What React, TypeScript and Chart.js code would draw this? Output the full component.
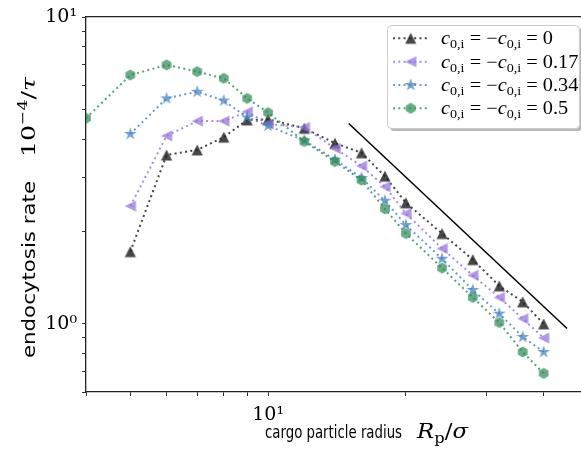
import React, { useEffect, useRef } from 'react';
import { Chart, registerables } from 'chart.js';
Chart.register(...registerables);

// ---- data ----
const radiiGreen = [4, 5, 6, 7, 8, 9, 10, 12, 14, 16, 18, 20, 24, 28, 32, 36, 40];
const radii = [5, 6, 7, 8, 9, 10, 12, 14, 16, 18, 20, 24, 28, 32, 36, 40];
const rate0 = [1.72, 3.55, 3.69, 4.06, 4.62, 4.64, 4.34, 3.88, 3.61, 3.03, 2.48, 1.97, 1.62, 1.33, 1.18, 1.0];
const rate017 = [2.42, 4.10, 4.58, 4.58, 4.91, 4.48, 4.37, 3.73, 3.27, 2.80, 2.29, 1.76, 1.44, 1.22, 1.04, 0.90];
const rate034 = [4.16, 5.43, 5.71, 5.34, 4.71, 4.42, 3.96, 3.43, 2.99, 2.52, 2.10, 1.63, 1.29, 1.08, 0.907, 0.81];
const rate05 = [4.68, 6.47, 6.98, 6.64, 6.31, 5.43, 4.88, 3.93, 3.38, 2.94, 2.37, 1.97, 1.52, 1.22, 1.01, 0.81, 0.69];
const guideX = [15, 45];
const guideY = [4.5, 0.966];
const seriesValues = ['0', '0.17', '0.34', '0.5'];
const xTickValues = [4, 5, 6, 7, 8, 9, 10, 20, 30, 40, 50];
const yTickValues = [0.6, 0.7, 0.8, 0.9, 1, 2, 3, 4, 5, 6, 7, 8, 9, 10];
const xTickLabels: Record<number, string> = { 10: '10¹' };
const yTickLabels: Record<number, string> = { 1: '10⁰', 10: '10¹' };

const SERIF = '"Liberation Serif", "DejaVu Serif", serif';
const DSERIF = '"DejaVu Serif", serif';
const SANS = '"DejaVu Sans", sans-serif';

function makeMarker(kind: string, fill: string): HTMLCanvasElement {
  const s = 16;
  const c = document.createElement('canvas');
  c.width = s;
  c.height = s;
  const ctx = c.getContext('2d')!;
  const m = s / 2;
  ctx.beginPath();
  if (kind === 'up') {
    const r = 5.6;
    ctx.moveTo(m, m - r);
    ctx.lineTo(m - r, m + r);
    ctx.lineTo(m + r, m + r);
  } else if (kind === 'left') {
    const r = 5.6;
    ctx.moveTo(m - r, m);
    ctx.lineTo(m + r, m - r);
    ctx.lineTo(m + r, m + r);
  } else if (kind === 'star') {
    const ro = 6.8;
    const ri = ro * 0.382;
    for (let k = 0; k < 10; k++) {
      const a = -Math.PI / 2 + (k * Math.PI) / 5;
      const r = k % 2 === 0 ? ro : ri;
      const px = m + r * Math.cos(a);
      const py = m + r * Math.sin(a);
      if (k === 0) ctx.moveTo(px, py);
      else ctx.lineTo(px, py);
    }
  } else {
    const r = 5.6;
    for (let k = 0; k < 6; k++) {
      const a = -Math.PI / 2 + (k * Math.PI) / 3;
      const px = m + r * Math.cos(a);
      const py = m + r * Math.sin(a);
      if (k === 0) ctx.moveTo(px, py);
      else ctx.lineTo(px, py);
    }
  }
  ctx.closePath();
  ctx.fillStyle = fill;
  ctx.fill();
  return c;
}

type Seg = { t: string; font: string; dy?: number };
function measureRich(ctx: CanvasRenderingContext2D, segs: Seg[]) {
  let total = 0;
  segs.forEach((s) => {
    ctx.font = s.font;
    total += ctx.measureText(s.t).width;
  });
  return total;
}
function drawRich(ctx: CanvasRenderingContext2D, segs: Seg[], x: number, y: number, targetWidth?: number, fixedScale?: number) {
  const total = measureRich(ctx, segs);
  const sx = fixedScale ? fixedScale : targetWidth ? targetWidth / total : 1;
  ctx.save();
  ctx.translate(x, y);
  ctx.scale(sx, 1);
  ctx.textAlign = 'left';
  ctx.textBaseline = 'alphabetic';
  let cx = 0;
  segs.forEach((s) => {
    ctx.font = s.font;
    ctx.fillText(s.t, cx, s.dy || 0);
    cx += ctx.measureText(s.t).width;
  });
  ctx.restore();
}

export default function App() {
  const ref = useRef<HTMLCanvasElement>(null);
  useEffect(() => {
    const colors = [
      { line: 'rgba(25,25,25,0.8)', fill: 'rgba(30,30,30,0.82)', kind: 'up' },
      { line: 'rgba(147,112,219,0.8)', fill: 'rgba(147,112,219,0.72)', kind: 'left' },
      { line: 'rgba(70,130,190,0.8)', fill: 'rgba(70,130,190,0.75)', kind: 'star' },
      { line: 'rgba(46,139,87,0.8)', fill: 'rgba(46,139,87,0.72)', kind: 'hex' },
    ];
    const markers = colors.map((c) => makeMarker(c.kind, c.fill));
    const seriesX = [radii, radii, radii, radiiGreen];
    const seriesY = [rate0, rate017, rate034, rate05];
    const dash = [2, 3.3];

    const datasets: any[] = seriesY.map((ys, si) => ({
      label: seriesValues[si],
      data: ys.map((y, i) => ({ x: seriesX[si][i], y })),
      showLine: true,
      borderColor: colors[si].line,
      borderWidth: 2,
      borderDash: dash,
      pointStyle: markers[si],
      pointRadius: 6,
      backgroundColor: colors[si].fill,
      order: 4 - si,
      clip: 0,
    }));
    datasets.push({
      label: 'guide',
      data: guideX.map((x, i) => ({ x, y: guideY[i] })),
      showLine: true,
      borderColor: '#000',
      borderWidth: 1.5,
      pointRadius: 0,
      order: 0,
      clip: 0,
    });

    const legendSegs = (v: string): Seg[] => [
      { t: 'c', font: `italic 18px ${SERIF}` },
      { t: '0,i', font: `12.5px ${SERIF}`, dy: 4 },
      { t: ' = −', font: `18px ${SERIF}` },
      { t: 'c', font: `italic 18px ${SERIF}` },
      { t: '0,i', font: `12.5px ${SERIF}`, dy: 4 },
      { t: ' = ' + v, font: `18px ${SERIF}` },
    ];

    const overlay = {
      id: 'overlay',
      afterDraw(chart: any) {
        const ctx: CanvasRenderingContext2D = chart.ctx;
        ctx.save();
        ctx.fillStyle = '#000';
        // x title
        drawRich(ctx, [{ t: 'cargo particle radius', font: `18px ${SANS}` }], 265, 438, 137);
        drawRich(
          ctx,
          [
            { t: 'R', font: `italic 21px ${DSERIF}` },
            { t: 'p', font: `15px ${DSERIF}`, dy: 5 },
            { t: '/', font: `21px ${DSERIF}` },
            { t: 'σ', font: `italic 21px ${DSERIF}` },
          ],
          417,
          438,
          51
        );
        // y title
        ctx.save();
        ctx.translate(35, 358);
        ctx.rotate(-Math.PI / 2);
        drawRich(ctx, [{ t: 'endocytosis rate', font: `18px ${SANS}` }], 0, 0, 177);
        ctx.restore();
        ctx.save();
        ctx.translate(35, 157);
        ctx.rotate(-Math.PI / 2);
        drawRich(
          ctx,
          [
            { t: '10', font: `19px ${DSERIF}` },
            { t: '−4', font: `13px ${DSERIF}`, dy: -8 },
            { t: '/', font: `19px ${DSERIF}` },
            { t: 'τ', font: `italic 19px ${DSERIF}` },
          ],
          0,
          0,
          80
        );
        ctx.restore();

        // legend
        const x0 = 387, y0 = 25, w = 192, h = 103;
        ctx.fillStyle = 'rgba(0,0,0,0.28)';
        ctx.beginPath();
        ctx.roundRect(x0 + 3, y0 + 3, w, h, 4);
        ctx.fill();
        ctx.fillStyle = '#fff';
        ctx.strokeStyle = '#cccccc';
        ctx.lineWidth = 1;
        ctx.beginPath();
        ctx.roundRect(x0 + 0.5, y0 + 0.5, w, h, 4);
        ctx.fill();
        ctx.stroke();
        const rows = [38.3, 61.7, 85, 108.3];
        const legScale = 112 / measureRich(ctx, legendSegs('0'));
        rows.forEach((ry, i) => {
          ctx.save();
          ctx.strokeStyle = colors[i].line;
          ctx.lineWidth = 2;
          ctx.setLineDash(dash);
          ctx.beginPath();
          ctx.moveTo(393, ry);
          ctx.lineTo(428, ry);
          ctx.stroke();
          ctx.restore();
          const mk = markers[i];
          ctx.drawImage(mk, 410.7 - mk.width / 2, ry - mk.height / 2);
          ctx.fillStyle = '#000';
          drawRich(ctx, legendSegs(seriesValues[i]), 441, ry + 6, undefined, legScale);
        });
        ctx.restore();
      },
    };

    const tickFont = { family: '"DejaVu Serif", serif', size: 19 };
    const chart = new Chart(ref.current!, {
      type: 'scatter',
      data: { datasets },
      options: {
        animation: false,
        responsive: false,
        devicePixelRatio: 1,
        layout: { padding: { top: 17, right: 32, left: 0, bottom: 0 } },
        plugins: { legend: { display: false }, tooltip: { enabled: false } },
        scales: {
          x: {
            type: 'logarithmic',
            min: 4,
            max: 50,
            afterFit: (s: any) => {
              s.height = 76;
            },
            afterBuildTicks: (s: any) => {
              s.ticks = xTickValues.map((v) => ({ value: v }));
            },
            ticks: {
              autoSkip: false,
              maxRotation: 0,
              padding: 8,
              color: '#000',
              font: tickFont,
              callback: (v: any) => xTickLabels[Number(v)] || '',
            },
            grid: { display: true, drawOnChartArea: false, drawTicks: true, tickLength: 4, color: '#333', lineWidth: 1 },
            border: { display: true, color: '#222', width: 1.3 },
          },
          x2: {
            type: 'logarithmic',
            position: 'top',
            min: 4,
            max: 50,
            afterFit: (s: any) => {
              s.height = 0;
            },
            ticks: { display: false },
            grid: { display: true, drawOnChartArea: false, drawTicks: false },
            border: { display: true, color: '#222', width: 1.3 },
          },
          y: {
            type: 'logarithmic',
            min: 0.6,
            max: 10,
            afterFit: (s: any) => {
              s.width = 86;
            },
            afterBuildTicks: (s: any) => {
              s.ticks = yTickValues.map((v) => ({ value: v }));
            },
            ticks: {
              autoSkip: false,
              padding: 5,
              color: '#000',
              font: tickFont,
              callback: (v: any) => yTickLabels[Number(v)] || '',
            },
            grid: { display: true, drawOnChartArea: false, drawTicks: true, tickLength: 4, color: '#333', lineWidth: 1 },
            border: { display: true, color: '#222', width: 1.3 },
          },
        },
      },
      plugins: [overlay],
    } as any);
    return () => chart.destroy();
  }, []);

  return (
    <div
      style={{
        position: 'fixed',
        left: 0,
        top: 0,
        width: 581,
        height: 468,
        overflow: 'hidden',
        background: '#fff',
      }}
    >
      <canvas ref={ref} width={620} height={468} style={{ display: 'block', width: 620, height: 468 }} />
    </div>
  );
}
